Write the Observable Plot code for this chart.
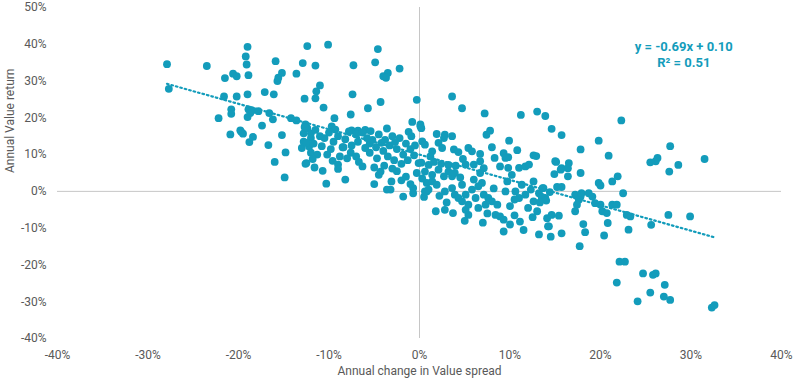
<!DOCTYPE html>
<html>
<head>
<meta charset="utf-8">
<script src="https://cdn.jsdelivr.net/npm/d3@7"></script>
<script src="https://cdn.jsdelivr.net/npm/@observablehq/plot@0.6"></script>
<style>
  html, body { margin: 0; padding: 0; background: #fff; }
  #chart { width: 800px; height: 384px; }
  svg { font-family: Roboto, "Noto Sans", sans-serif; overflow: visible; }
</style>
</head>
<body>
<div id="chart"></div>
<script>
// Annual change in Value spread (%) and annual Value return (%)
const points = [
  // left region
  [-27.9,34.6],[-27.7,27.9],[-23.5,34.1],[-22.2,19.9],[-21.6,25.8],[-21.5,30.8],[-20.9,15.5],[-20.8,22.3],[-20.8,21.1],
  [-20.6,32.0],[-20.2,31.3],[-20.2,25.8],[-19.8,16.6],[-19.7,16.2],[-19.5,15.7],[-19.2,36.7],[-19.1,34.5],[-19.0,39.3],
  [-19.0,26.4],[-19.0,20.2],[-18.9,31.6],[-18.9,22.3],[-18.8,13.4],[-18.7,21.3],[-18.5,22.0],[-18.4,14.8],[-17.8,21.8],
  [-17.4,17.9],[-17.1,27.0],[-16.7,12.6],[-16.6,21.3],[-16.2,19.6],[-16.1,26.4],[-16.0,8.0],[-15.9,35.4],[-15.7,30.0],
  [-15.6,30.9],[-15.2,32.2],[-15.2,15.3],[-14.9,3.8],[-14.8,10.6],[-14.2,19.9],[-13.6,19.3],[-13.6,32.0],[-13.0,11.8],
  [-12.9,34.9],[-12.8,13.5],[-12.8,15.8],[-12.7,25.2],[-12.6,18.2],[-12.5,7.7],[-12.4,39.5],[-12.4,17.2],[-12.2,12.2],[-12.0,14.5],
  // -12 .. 0 upper
  [-10.1,39.9],[-4.6,38.7],[-11.5,34.2],[-7.3,34.3],[-4.9,35.1],[-4.0,31.3],[-3.5,32.2],[-3.7,30.9],[-2.2,33.4],
  [-11.0,28.8],[-11.4,27.2],[-11.5,25.3],[-7.4,26.4],[-4.3,24.3],[-5.7,22.6],[-10.6,22.8],[-7.6,20.9],[-9.4,19.9],
  [-9.7,17.7],[-0.3,24.9],[-0.8,18.9],[0.1,18.2],[-3.6,17.1],[-7.5,16.6],[-6.8,16.5],[-6.0,16.7],[-5.4,16.4],
  // -12 .. 0 dense
  [-12.7,17.5],[-12.0,15.8],[-11.5,16.7],[-12.5,13.2],[-11.7,13.0],[-12.0,10.5],[-11.3,10.0],
  [-10.5,14.5],[-10.0,16.0],[-9.5,13.5],[-9.8,11.5],[-9.0,15.0],[-8.5,12.0],[-10.2,10.0],[-8.8,9.5],
  [-7.8,16.3],[-7.0,15.5],[-6.3,16.0],[-5.8,14.5],[-6.8,13.5],[-7.5,12.5],[-5.5,13.0],
  [-8.4,12.0],[-7.6,10.5],[-7.0,9.5],[-8.0,9.0],
  [-12.6,7.5],[-11.6,6.5],[-10.7,5.6],[-10.3,2.1],[-9.0,7.3],[-9.0,6.1],[-8.2,3.2],[-6.7,8.0],
  [-5.2,14.0],[-4.5,15.5],[-3.8,14.0],[-3.0,15.0],[-2.2,14.5],[-1.5,13.0],[-0.9,15.0],[-4.8,12.0],[-4.0,11.0],
  [-3.3,12.5],[-2.5,11.5],[-1.8,10.0],[-1.0,11.5],[-5.5,10.5],[-4.7,9.0],[-3.5,9.5],[-2.8,8.5],[-2.0,7.5],[-1.3,8.5],
  [-4.5,4.5],[-4.3,5.4],[-3.1,2.7],[-3.2,0.5],[-3.6,0.5],[-1.8,-1.4],[-0.7,0.9],[-0.7,-0.5],[-0.1,7.7],[-0.3,5.0],
  [0.8,0.0],[0.8,2.3],[-5.0,6.5],[-3.9,7.0],[-2.5,5.5],[-1.5,4.0],[-2.0,3.0],[-1.0,2.0],[0.3,3.5],[0.5,-1.5],
  [-11.0,15.0],[-10.8,12.3],[-9.3,16.8],[-8.2,14.2],[-6.0,11.8],[-4.2,13.2],[-2.7,13.4],[-1.2,16.2],[-0.5,12.5],
  [-9.6,8.3],[-6.3,6.8],[-3.0,6.2],[-0.6,9.8],[-11.8,8.8],[-5.0,2.0],
  // 0 .. 15 upper
  [3.6,25.8],[4.7,22.6],[7.2,21.2],[11.2,20.8],[13.0,21.7],[13.9,20.5],[0.1,17.7],[0.2,17.2],[7.4,15.4],[7.8,16.5],
  [9.9,13.8],[1.9,15.6],[2.8,15.4],[3.6,15.0],[2.7,14.5],[2.1,13.2],[2.5,11.8],[3.8,11.4],[4.3,10.7],[5.4,11.8],
  [5.8,10.9],[6.7,10.2],[1.4,10.9],[0.3,13.6],[0.6,12.7],[8.3,9.1],[9.3,10.4],[9.8,9.3],[12.6,9.8],[12.9,9.6],
  // 0 .. 15 dense
  [0.2,7.8],[1.0,7.2],[1.6,8.0],[2.4,7.5],[3.2,7.2],[4.0,7.0],[5.1,7.3],[6.0,7.3],[6.7,8.2],[7.1,6.3],[6.7,5.0],
  [8.9,6.8],[9.5,9.1],[9.8,6.4],[10.2,4.5],[11.0,6.4],[11.7,6.8],[12.1,7.3],
  [11.3,1.8],[10.6,0.0],[11.0,-1.8],[11.7,-0.9],[12.6,-2.7],[13.0,-5.4],[13.7,0.9],[13.9,-1.8],[14.1,-7.3],[14.2,-9.5],
  [0.6,0.0],[1.0,0.5],[1.4,2.7],[1.9,1.8],[2.7,4.1],[3.6,4.1],[4.5,3.8],
  [2.8,0.0],[3.6,0.9],[3.9,-0.9],[4.3,-1.8],[4.7,-2.7],[5.1,-0.9],[5.8,0.5],[6.5,1.4],[6.9,2.3],
  [1.8,-5.4],[2.8,-5.0],[3.7,-5.9],[5.4,-6.4],[5.1,-5.0],
  [7.1,-0.9],[7.6,-1.8],[8.0,-2.7],[8.6,-3.6],[7.3,-3.6],
  [8.9,-6.8],[9.3,-7.7],[11.1,-8.2],[9.3,-10.9],
  [0.6,5.4],[1.4,4.5],[2.1,5.9],[3.2,5.4],[3.9,5.0],[4.7,1.8],[6.2,-1.8],[5.4,-3.6],[8.4,-6.4],[9.5,0.0],[9.7,2.7],[12.6,2.7],
  [5.0,-8.0],[6.5,-4.5],[7.5,-6.0],[10.0,-4.0],[10.5,-6.5],[12.0,-4.5],[12.5,-7.0],[11.5,-10.5],[10.0,-9.0],[7.0,-8.5],
  [1.2,9.5],[4.8,8.8],[8.0,12.0],[10.8,11.2],[2.2,-1.2],[3.0,-3.0],[6.0,3.2],[8.2,0.8],[10.5,-2.2],[12.3,0.5],
  // 13 .. 33
  [13.2,-0.5],[13.5,-1.5],[14.0,-2.5],[14.4,-0.2],[13.3,-3.0],
  [17.2,-0.9],[17.8,-1.4],[17.9,-0.5],[17.6,-2.3],[17.4,-3.6],[17.2,-5.4],
  [18.7,-0.5],[19.1,-1.4],[20.0,-3.6],[20.2,-5.4],[20.7,-5.9],[19.4,-3.2],[21.3,-3.6],[21.8,-3.6],[22.9,-6.4],
  [23.3,-6.8],[27.5,-6.4],[29.9,-6.8],[25.6,-9.1],[23.1,-10.4],[14.6,-6.4],[15.4,-6.6],[14.3,-9.5],[14.5,-12.3],
  [15.7,-11.4],[18.1,-8.9],[18.3,-11.1],[20.8,-8.6],[20.4,-12.0],[13.2,-11.7],
  [15.0,8.2],[15.7,6.3],[16.5,7.7],[16.4,6.3],[14.9,4.7],[16.4,4.1],[17.8,5.0],[13.6,0.9],[15.2,1.2],[15.7,1.2],
  [19.8,2.3],[20.0,1.6],[21.3,2.7],[21.9,4.1],[22.5,-0.5],
  [14.6,17.0],[15.7,15.3],[22.3,19.3],[19.8,13.8],[17.8,11.4],[20.9,9.7],[15.1,8.0],[15.6,5.9],[27.7,12.3],
  [25.5,7.9],[26.1,8.2],[26.3,9.1],[28.6,7.2],[31.5,8.8],[27.6,5.4],
  [17.7,-14.9],[22.1,-19.1],[22.7,-19.1],[21.8,-24.8],[24.7,-22.3],[25.8,-22.7],[26.1,-22.3],[27.1,-25.4],
  [25.5,-27.5],[24.1,-29.9],[27.0,-28.6],[27.7,-29.5],[32.3,-31.6],[32.6,-30.9]
];
const spreadChange = points.map(p => p[0]);
const valueReturn = points.map(p => p[1]);

const xTicks = [-40, -30, -20, -10, 0, 10, 20, 30, 40];
const yTicks = [-40, -30, -20, -10, 0, 10, 20, 30, 40, 50];

// Trendline as stated in the chart: y = -0.69x + 0.10
const slope = -0.69;
const intercept = 10; // in percent
const trendEnds = [d3.min(spreadChange), d3.max(spreadChange)];
const equationText = "y = -0.69x + 0.10";
const r2Text = "R² = 0.51";

const data = spreadChange.map((x, i) => ({x, y: valueReturn[i]}));
const trend = trendEnds.map(x => ({x, y: slope * x + intercept}));

const teal = "#139cbb";
const grey = "#595959";

const chart = Plot.plot({
  width: 800,
  height: 384,
  marginLeft: 57,
  marginRight: 19,
  marginTop: 7,
  marginBottom: 46,
  style: {fontSize: "12px", fontFamily: "Roboto, 'Noto Sans', sans-serif", color: grey, background: "#fff"},
  x: {domain: [-40, 40], ticks: xTicks, tickFormat: d => d + "%"},
  y: {domain: [-40, 50], ticks: yTicks, tickFormat: d => d + "%"},
  marks: [
    Plot.ruleX([0], {stroke: "#c6c6c6", strokeWidth: 1}),
    Plot.ruleY([0], {stroke: "#c6c6c6", strokeWidth: 1}),
    Plot.axisX({ticks: xTicks, tickFormat: d => d + "%", tickSize: 0, tickPadding: 12, label: null, fill: grey}),
    Plot.axisY({ticks: yTicks, tickFormat: d => d + "%", tickSize: 0, tickPadding: 11, label: null, fill: grey}),
    Plot.text(["Annual change in Value spread"], {frameAnchor: "bottom", dy: 36, fill: grey, fontSize: 12}),
    Plot.text(["Annual Value return"], {frameAnchor: "left", dx: -47, rotate: -90, fill: grey, fontSize: 12}),
    Plot.dot(data, {x: "x", y: "y", r: 3.9, fill: teal, stroke: "none"}),
    Plot.line(trend, {x: "x", y: "y", stroke: teal, strokeWidth: 2.2, strokeDasharray: "1.6,3", strokeLinecap: "round"}),
    Plot.text([equationText], {x: [29.2], y: [39.2], fill: teal, fontWeight: "bold", fontSize: 13}),
    Plot.text([r2Text], {x: [29.2], y: [35.0], fill: teal, fontWeight: "bold", fontSize: 13})
  ]
});
document.getElementById("chart").appendChild(chart);
</script>
</body>
</html>
